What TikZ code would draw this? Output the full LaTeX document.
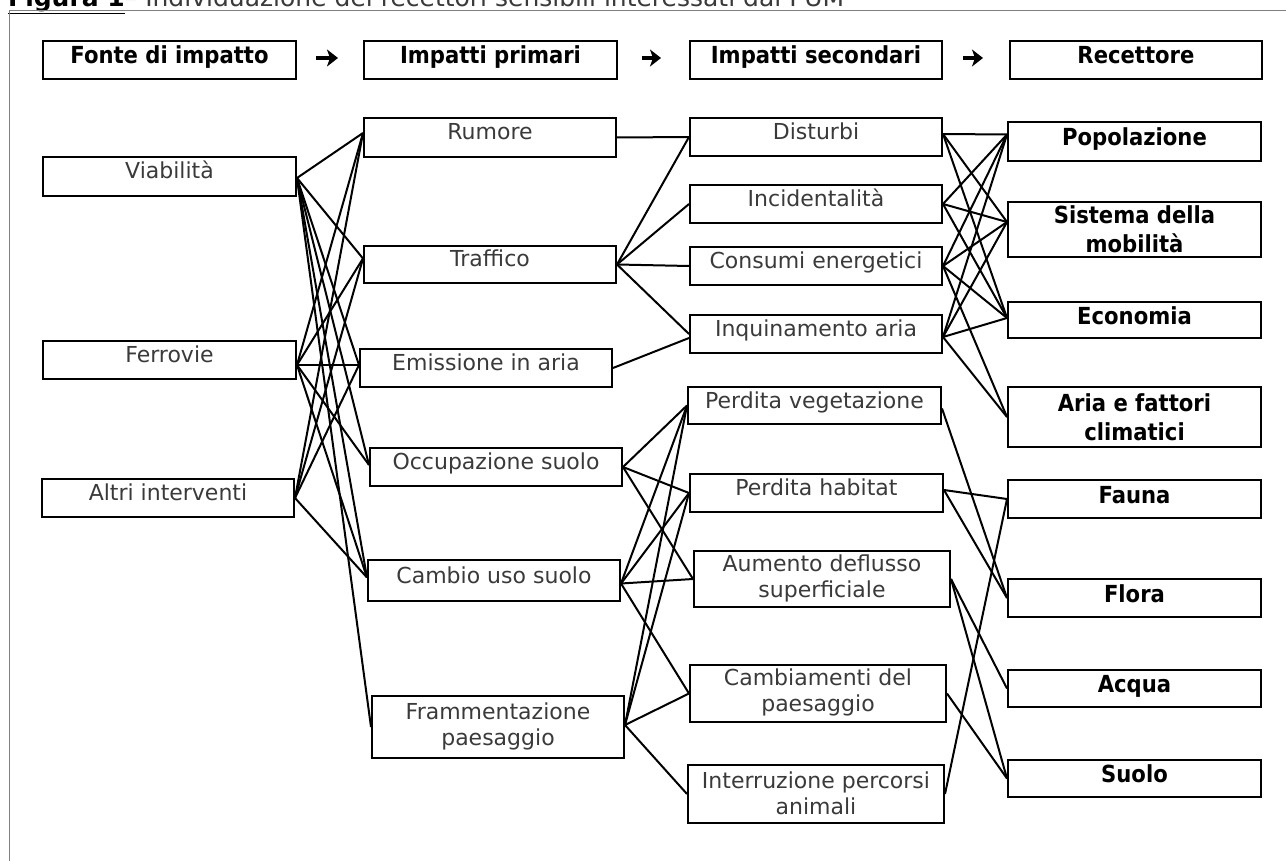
\documentclass[tikz,border=0pt]{standalone}
\usepackage{fontspec}
\setmainfont{DejaVu Sans}
\newfontfamily\hdrfont{DejaVu Sans}[FakeStretch=0.9]
\usetikzlibrary{arrows.meta}
\definecolor{txtgray}{HTML}{3A3A3A}
\definecolor{framegray}{HTML}{808080}
\tikzset{
  box/.style={draw=black, line width=2pt, inner sep=0pt},
  glbl/.style={font=\fontsize{22}{26}\selectfont, text=txtgray, align=center, inner sep=0pt},
  hlbl/.style={font=\hdrfont\bfseries\fontsize{23.5}{29}\selectfont, text=black, align=center, inner sep=0pt},
  gsingle/.style={glbl, anchor=base, yshift=-2.5pt},
  gmulti/.style={glbl, yshift=1pt},
  hsingle/.style={hlbl, anchor=base, yshift=-4pt},
  hmulti/.style={hlbl},
  conn/.style={line width=2pt, black},
  harrow/.style={line width=3.4pt, -{Stealth[length=11pt,width=17pt,inset=3pt]}},
}
\newcommand\mkbox[7]{%
  \node[box, minimum width={(#4-#2)*1pt}, minimum height={(#5-#3)*1pt}] (#1) at ({(#2+#4)/2},{(#3+#5)/2}) {};
  \node[#6] (#1-t) at (#1.center) {#7};
}
\begin{document}
\begin{tikzpicture}[x=1pt, y=-1pt]
\path[use as bounding box, clip] (0,0) rectangle (1286,861);
\fill[white] (0,0) rectangle (1286,861);
% title (cut at the top)
\node[anchor=base west, inner sep=0pt, font=\fontsize{25}{30}\selectfont] (title) at (8,6.5)
  {\textbf{\underline{Figura 1}}\textcolor{txtgray}{ – Individuazione dei recettori sensibili interessati dal PUM}};
% frame
\draw[framegray, line width=1pt] (9,880) -- (9,10.5) -- (1300,10.5);
% headers
\mkbox{h1}{43}{41}{296}{79}{hsingle}{Fonte di impatto}
\mkbox{h2}{364}{41}{617}{79}{hsingle}{Impatti primari}
\mkbox{h3}{690}{41}{942}{79}{hsingle}{Impatti secondari}
\mkbox{h4}{1010}{41}{1262}{79}{hsingle}{Recettore}
\draw[harrow] ([xshift=19pt,yshift=2pt]h1.east) -- ([xshift=-25pt,yshift=2pt]h2.west);
\draw[harrow] ([xshift=24pt,yshift=2pt]h2.east) -- ([xshift=-28pt,yshift=2pt]h3.west);
\draw[harrow] ([xshift=20pt,yshift=2pt]h3.east) -- ([xshift=-26pt,yshift=2pt]h4.west);
% column 1
\mkbox{V}{43}{157}{296}{196}{gsingle}{Viabilità}
\mkbox{F}{43}{341}{296}{379}{gsingle}{Ferrovie}
\mkbox{A}{42}{479}{294}{517}{gsingle}{Altri interventi}
% column 2
\mkbox{rum}{364}{118}{616}{157}{gsingle}{Rumore}
\mkbox{tra}{364}{246}{616}{283}{gsingle}{Traffico}
\mkbox{emi}{360}{349}{612}{387}{gsingle}{Emissione in aria}
\mkbox{occ}{370}{448}{622}{486}{gsingle}{Occupazione suolo}
\mkbox{cam}{368}{560}{620}{601}{gsingle}{Cambio uso suolo}
\mkbox{fra}{372}{696}{624}{758}{gmulti}{Frammentazione\\paesaggio}
% column 3
\mkbox{dis}{690}{118}{942}{156}{gsingle}{Disturbi}
\mkbox{inc}{690}{185}{942}{223}{gsingle}{Incidentalità}
\mkbox{con}{690}{247}{942}{285}{gsingle}{Consumi energetici}
\mkbox{inq}{690}{315}{942}{353}{gsingle}{Inquinamento aria}
\mkbox{veg}{688}{387}{941}{424}{gsingle}{Perdita vegetazione}
\mkbox{hab}{690}{474}{943}{512}{gsingle}{Perdita habitat}
\mkbox{aum}{694}{551}{950}{607}{gmulti}{Aumento deflusso\\superficiale}
\mkbox{cbp}{690}{665}{946}{722}{gmulti}{Cambiamenti del\\paesaggio}
\mkbox{int}{688}{765}{944}{823}{gmulti}{Interruzione percorsi\\animali}
% column 4
\mkbox{pop}{1008}{122}{1261}{161}{hsingle}{Popolazione}
\mkbox{sis}{1008}{202}{1261}{257}{hmulti}{Sistema della\\mobilità}
\mkbox{eco}{1008}{302}{1261}{338}{hsingle}{Economia}
\mkbox{ari}{1008}{387}{1261}{447}{hmulti}{Aria e fattori\\climatici}
\mkbox{fau}{1008}{480}{1261}{518}{hsingle}{Fauna}
\mkbox{flo}{1008}{579}{1261}{617}{hsingle}{Flora}
\mkbox{acq}{1008}{670}{1261}{707}{hsingle}{Acqua}
\mkbox{suo}{1008}{760}{1261}{797}{hsingle}{Suolo}
% connection points
\coordinate (Ve) at ([yshift=-1.5pt]V.east);
\coordinate (Fe) at ([yshift=-5pt]F.east);
\coordinate (Ae) at (A.east);
\coordinate (rumw) at ([yshift=4.5pt]rum.west);
\coordinate (traw) at ([yshift=6pt]tra.west);
\coordinate (emiw) at ([yshift=3pt]emi.west);
\coordinate (occw) at ([yshift=2pt]occ.west);
\coordinate (camw) at ([yshift=3pt]cam.west);
\coordinate (fraw) at (fra.west);
\coordinate (dise) at ([yshift=3pt]dis.east);
\coordinate (inqe) at ([yshift=-3pt]inq.east);
\coordinate (popw) at ([yshift=7pt]pop.west);
\coordinate (sisw) at ([yshift=7.5pt]sis.west);
\coordinate (ecow) at ([yshift=2pt]eco.west);
% column 1 -> column 2
\foreach \t in {rumw,traw,emiw,occw,camw,fraw} \draw[conn] (Ve) -- (\t);
\foreach \t in {rumw,traw,emiw,occw,camw} \draw[conn] (Fe) -- (\t);
\foreach \t in {rumw,traw,emiw,camw} \draw[conn] (Ae) -- (\t);
% column 2 -> column 3
\draw[conn] (rum.east) -- (dis.west);
\foreach \t in {dis,inc,con,inq} \draw[conn] (tra.east) -- (\t.west);
\draw[conn] (emi.east) -- ([yshift=-4pt]inq.west);
\foreach \t in {veg,hab,aum} \draw[conn] (occ.east) -- (\t.west);
\foreach \t in {veg,hab,aum,cbp} \draw[conn] ([yshift=-3pt]cam.east) -- (\t.west);
\foreach \t in {veg,hab,cbp,int} \draw[conn] ([yshift=2pt]fra.east) -- (\t.west);
% column 3 -> column 4
\foreach \t in {popw,sisw,ecow} \draw[conn] (dise) -- (\t);
\foreach \t in {popw,sisw,ecow} \draw[conn] (inc.east) -- (\t);
\foreach \t in {popw,sisw,ecow} \draw[conn] (con.east) -- (\t);
\draw[conn] (con.east) -- (ari.west);
\foreach \t in {popw,sisw,ecow} \draw[conn] (inqe) -- (\t);
\draw[conn] (inqe) -- (ari.west);
\draw[conn] ([yshift=-3pt]veg.east) -- (flo.west);
\draw[conn] ([yshift=3pt]hab.east) -- (fau.west);
\draw[conn] ([yshift=3pt]hab.east) -- (flo.west);
\draw[conn] (aum.east) -- (acq.west);
\draw[conn] (aum.east) -- (suo.west);
\draw[conn] (cbp.east) -- (suo.west);
\draw[conn] (int.east) -- (fau.west);
\end{tikzpicture}
\end{document}
